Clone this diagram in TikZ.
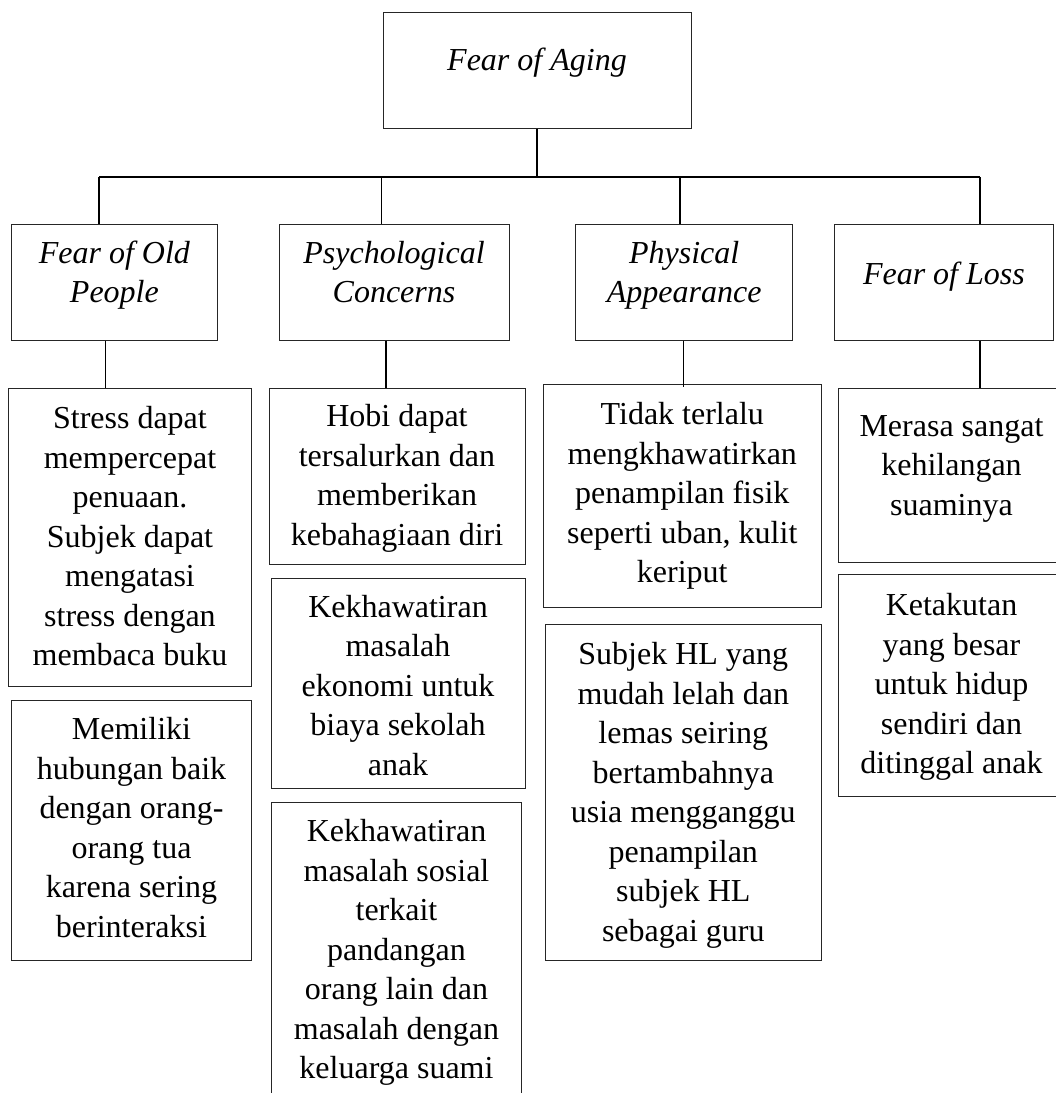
\documentclass[tikz,border=0pt]{standalone}
\usepackage{fontspec}
\setmainfont{Liberation Serif}
% #1 = height of the top strut, #2 = depth of the bottom strut, #3 = text
\newcommand{\tb}[3]{\rule{0pt}{#1pt}#3\rule[-#2pt]{0pt}{#2pt}}
\begin{document}
\begin{tikzpicture}[x=1pt,y=-1pt,
  box/.style={draw=black!85, line width=1pt, rectangle, inner xsep=3pt,
    inner ysep=0pt, align=center, font=\fontsize{32}{39.5}\selectfont},
  ibox/.style={box, font=\fontsize{32}{39.5}\selectfont\itshape},
  sz/.style n args={2}{minimum width=#1, minimum height=#2},
  conn/.style={draw=black, line width=1.4pt},
  bus/.style={draw=black, line width=2pt}]
\useasboundingbox (0,0) rectangle (1056,1093);

% level 1
\node[ibox, sz={308pt}{116pt}] (top) at (537,70) {\tb{28}{28}{Fear of Aging}};

% level 2
\node[ibox, sz={206pt}{116pt}] (L2a) at (114.4,282) {\tb{28}{26}{Fear of Old\\People}};
\node[ibox, sz={230pt}{116pt}] (L2b) at (394,282) {\tb{28}{26}{Psychological\\Concerns}};
\node[ibox, sz={217.5pt}{116pt}] (L2c) at (684.2,282) {\tb{28}{26}{Physical\\Appearance}};
\node[ibox, sz={219.7pt}{116pt}] (L2d) at (943.9,282) {\tb{28}{24}{Fear of Loss}};

% level 3 - column 1
\node[box, sz={243pt}{298pt}] (L3a1) at (130,537)
  {\tb{32}{12}{Stress dapat\\mempercepat\\penuaan.\\Subjek dapat\\mengatasi\\stress dengan\\membaca buku}};
\node[box, sz={240pt}{260pt}] (L3a2) at (131.5,830.7)
  {\tb{28}{12}{Memiliki\\hubungan baik\\dengan orang-\\orang tua\\karena sering\\berinteraksi}};

% level 3 - column 2
\node[box, sz={256pt}{175.7pt}] (L3b1) at (397,476.2)
  {\tb{32}{12}{Hobi dapat\\tersalurkan dan\\memberikan\\kebahagiaan diri}};
\node[box, sz={254pt}{210pt}] (L3b2) at (398,683)
  {\tb{38}{12}{Kekhawatiran\\masalah\\ekonomi untuk\\biaya sekolah\\anak}};
\node[box, sz={250pt}{298.6pt}] (L3b3) at (396.5,952)
  {\tb{28}{12}{Kekhawatiran\\masalah sosial\\terkait\\pandangan\\orang lain dan\\masalah dengan\\keluarga suami}};

% level 3 - column 3
\node[box, sz={278pt}{223pt}] (L3c1) at (682.3,495.8)
  {\tb{28}{12}{Tidak terlalu\\mengkhawatirkan\\penampilan fisik\\seperti uban, kulit\\keriput}};
\node[box, sz={276pt}{335.7pt}] (L3c2) at (683.3,792.2)
  {\tb{34}{12}{Subjek HL yang\\mudah lelah dan\\lemas seiring\\bertambahnya\\usia mengganggu\\penampilan\\subjek HL\\sebagai guru}};

% level 3 - column 4
\node[box, sz={227pt}{174pt}] (L3d1) at (951.5,475.5)
  {\tb{28}{28}{Merasa sangat\\kehilangan\\suaminya}};
\node[box, sz={227pt}{222.4pt}] (L3d2) at (951.5,685.5)
  {\tb{30}{12}{Ketakutan\\yang besar\\untuk hidup\\sendiri dan\\ditinggal anak}};

% bus coordinates
\coordinate (bA) at (99,177);
\coordinate (bB) at (381.7,177);
\coordinate (bC) at (680,177);
\coordinate (bD) at (979.8,177);
% x positions of the lower connectors
\coordinate (xA) at (105.7,0);
\coordinate (xB) at (386,0);
\coordinate (xC) at (683.5,0);
\coordinate (xD) at (980,0);

% connectors level 1 -> level 2
\draw[conn] (top.south) -- (top.south |- bA);
\draw[bus] (bA) -- (bD);
\draw[conn] (bA) -- (bA |- L2a.north);
\draw[conn] (bB) -- (bB |- L2b.north);
\draw[conn] (bC) -- (bC |- L2c.north);
\draw[conn] (bD) -- (bD |- L2d.north);

% connectors level 2 -> level 3
\draw[conn] (L2a.south -| xA) -- (L3a1.north -| xA);
\draw[conn] (L2b.south -| xB) -- (L3b1.north -| xB);
\draw[conn] (L2c.south -| xC) -- (L3c1.north -| xC) -- ++(0,3);
\draw[conn] (L2d.south -| xD) -- (L3d1.north -| xD);
\end{tikzpicture}
\end{document}
